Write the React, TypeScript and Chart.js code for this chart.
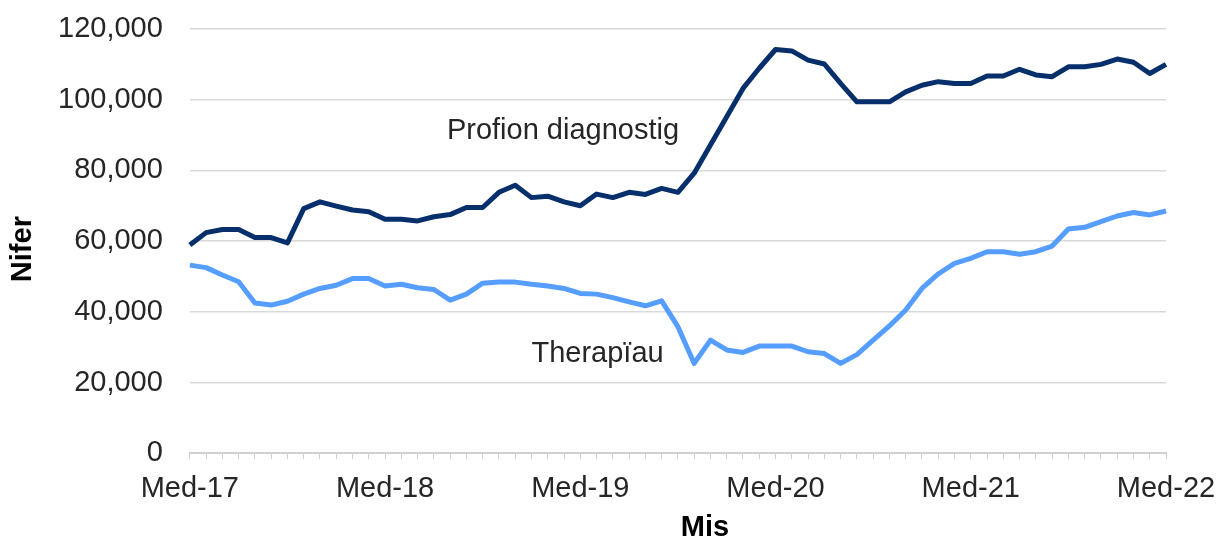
import { useEffect, useRef } from 'react';
import { Chart, registerables } from 'chart.js';

Chart.register(...registerables);

// Months, Medi 2017 – Medi 2022
const months: string[] = [
  'Med-17', 'Hyd-17', 'Tach-17', 'Rhag-17', 'Ion-18', 'Chwe-18', 'Maw-18', 'Ebr-18', 'Mai-18', 'Meh-18', 'Gor-18', 'Awst-18',
  'Med-18', 'Hyd-18', 'Tach-18', 'Rhag-18', 'Ion-19', 'Chwe-19', 'Maw-19', 'Ebr-19', 'Mai-19', 'Meh-19', 'Gor-19', 'Awst-19',
  'Med-19', 'Hyd-19', 'Tach-19', 'Rhag-19', 'Ion-20', 'Chwe-20', 'Maw-20', 'Ebr-20', 'Mai-20', 'Meh-20', 'Gor-20', 'Awst-20',
  'Med-20', 'Hyd-20', 'Tach-20', 'Rhag-20', 'Ion-21', 'Chwe-21', 'Maw-21', 'Ebr-21', 'Mai-21', 'Meh-21', 'Gor-21', 'Awst-21',
  'Med-21', 'Hyd-21', 'Tach-21', 'Rhag-21', 'Ion-22', 'Chwe-22', 'Maw-22', 'Ebr-22', 'Mai-22', 'Meh-22', 'Gor-22', 'Awst-22',
  'Med-22',
];

const diagnostig: number[] = [
  58900, 62400, 63300, 63300, 61000, 61000, 59500, 69200, 71100, 69900, 68800, 68300,
  66200, 66200, 65700, 66900, 67500, 69500, 69500, 73800, 75800, 72300, 72700, 71100,
  70000, 73300, 72300, 73800, 73200, 74900, 73800, 79200, 87200, 95200, 103200, 108900,
  114200, 113800, 111200, 110100, 104600, 99400, 99400, 99400, 102200, 104100, 105100, 104600,
  104600, 106700, 106700, 108600, 107000, 106500, 109300, 109300, 110000, 111500, 110600, 107400,
  110000,
];

const therapiau: number[] = [
  53200, 52500, 50400, 48500, 42500, 41900, 43000, 45000, 46600, 47500, 49400, 49400,
  47300, 47800, 46800, 46300, 43300, 45000, 48100, 48400, 48400, 47800, 47300, 46600,
  45200, 45000, 44000, 42800, 41700, 43100, 35800, 25400, 32000, 29200, 28500, 30300,
  30300, 30300, 28700, 28200, 25400, 27900, 32000, 36000, 40500, 46600, 50700, 53700,
  55100, 57000, 57000, 56300, 57000, 58600, 63400, 63900, 65500, 67100, 68100, 67400,
  68500,
];

const seriesNames: string[] = ['Profion diagnostig', 'Therapïau'];
const seriesColors: string[] = ['#062f6b', '#559dff'];
// label anchor: month index (left edge of text) and value (text baseline)
const labelIndex: number[] = [15.8, 21.0];
const labelValue: number[] = [89000, 25700];

const yTicks: number[] = [0, 20000, 40000, 60000, 80000, 100000, 120000];
const xTitle = 'Mis';
const yTitle = 'Nifer';

const FONT = "'Liberation Sans', Arial, sans-serif";
const TEXT = '#262626';

const labelPlugin = {
  id: 'seriesLabels',
  afterDatasetsDraw(chart: any) {
    const { ctx, scales, chartArea } = chart;
    ctx.save();
    ctx.font = `29px ${FONT}`;
    ctx.fillStyle = TEXT;
    ctx.textAlign = 'left';
    ctx.textBaseline = 'alphabetic';
    seriesNames.forEach((name, i) => {
      const x = scales.x.getPixelForValue(labelIndex[i]);
      const y = scales.y.getPixelForValue(labelValue[i]);
      ctx.fillText(name, x, y);
    });
    // axis titles
    ctx.fillStyle = '#000';
    ctx.font = `bold 29px ${FONT}`;
    ctx.textAlign = 'center';
    ctx.textBaseline = 'middle';
    ctx.fillText(xTitle, (chartArea.left + chartArea.right) / 2 + 27, chart.height - 12);
    ctx.translate(23, (chartArea.top + chartArea.bottom) / 2 + 8);
    ctx.rotate(-Math.PI / 2);
    ctx.fillText(yTitle, 0, 0);
    ctx.restore();
  },
};

export default function App() {
  const canvasRef = useRef<HTMLCanvasElement | null>(null);

  useEffect(() => {
    if (!canvasRef.current) return;
    const chart = new Chart(canvasRef.current, {
      type: 'line',
      data: {
        labels: months,
        datasets: [
          {
            label: seriesNames[0],
            data: diagnostig,
            borderColor: seriesColors[0],
            backgroundColor: seriesColors[0],
            borderWidth: 5,
            pointRadius: 0,
            tension: 0,
            borderJoinStyle: 'round',
          },
          {
            label: seriesNames[1],
            data: therapiau,
            borderColor: seriesColors[1],
            backgroundColor: seriesColors[1],
            borderWidth: 5,
            pointRadius: 0,
            tension: 0,
            borderJoinStyle: 'round',
          },
        ],
      },
      options: {
        animation: false,
        responsive: true,
        maintainAspectRatio: false,
        layout: { padding: { top: 0, left: 31, right: 0, bottom: 22 } },
        plugins: {
          legend: { display: false },
          tooltip: { enabled: false },
        },
        scales: {
          x: {
            type: 'category',
            offset: false,
            afterFit: (scale: any) => {
              scale.paddingRight = 50;
            },
            grid: {
              drawOnChartArea: false,
              drawTicks: true,
              tickLength: 6,
              color: '#d0d0d0',
            },
            border: { display: true, color: '#d0d0d0', width: 2 },
            ticks: {
              autoSkip: false,
              maxRotation: 0,
              minRotation: 0,
              padding: 12,
              color: TEXT,
              font: { family: FONT, size: 29 },
              callback: (_v: any, i: number) => (i % 12 === 0 ? months[i] : ''),
            },
            title: { display: false },
          },
          y: {
            min: 0,
            max: 120000,
            afterBuildTicks: (axis: any) => {
              axis.ticks = yTicks.map((v) => ({ value: v }));
            },
            afterFit: (scale: any) => {
              scale.paddingTop = 29;
              scale.paddingBottom = 15;
            },
            grid: { color: '#d9d9d9', lineWidth: 1.5, drawTicks: false },
            border: { display: false },
            ticks: {
              padding: 27,
              color: TEXT,
              font: { family: FONT, size: 29, lineHeight: 1 },
              callback: (v: any) => Number(v).toLocaleString('en-US'),
            },
            title: { display: false },
          },
        },
      },
      plugins: [labelPlugin],
    });
    return () => chart.destroy();
  }, []);

  return (
    <div style={{ position: 'fixed', left: 0, top: 0, width: 1216, height: 540, background: '#fff' }}>
      <canvas ref={canvasRef} />
    </div>
  );
}
